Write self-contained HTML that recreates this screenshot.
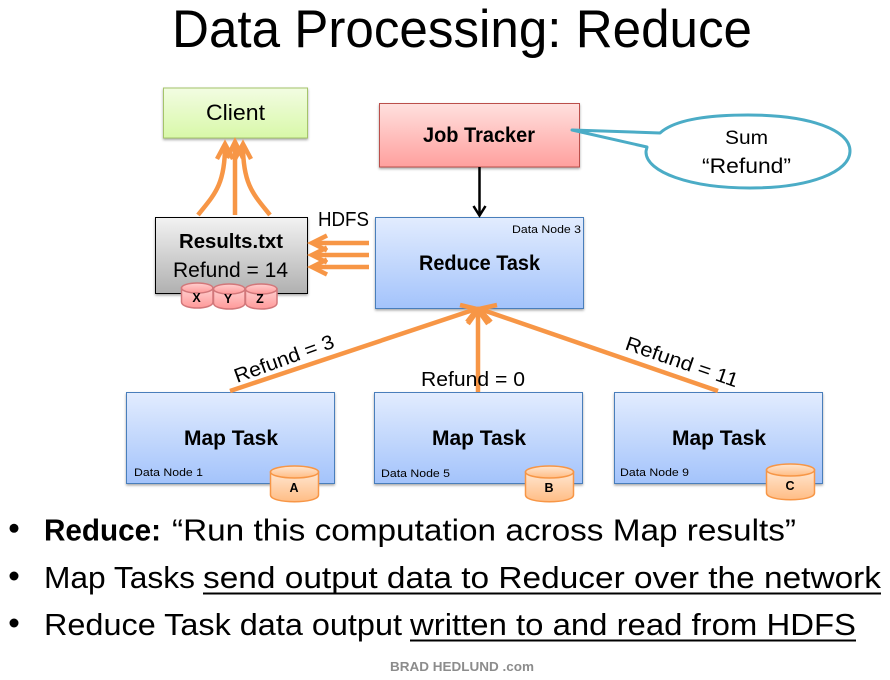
<!DOCTYPE html>
<html>
<head>
<meta charset="utf-8">
<style>
html,body{margin:0;padding:0;background:#fff}
svg{display:block}
text{font-family:"Liberation Sans",sans-serif;fill:#000}
.b{font-weight:bold}
</style>
</head>
<body>
<svg width="890" height="680" viewBox="0 0 890 680" xmlns="http://www.w3.org/2000/svg">
<defs>
<linearGradient id="blue" x1="0" y1="0" x2="0" y2="1"><stop offset="0" stop-color="#e2ecfe"/><stop offset="1" stop-color="#a3c3fb"/></linearGradient>
<linearGradient id="red" x1="0" y1="0" x2="0" y2="1"><stop offset="0" stop-color="#ffe0de"/><stop offset="1" stop-color="#ff9f9d"/></linearGradient>
<linearGradient id="green" x1="0" y1="0" x2="0" y2="1"><stop offset="0" stop-color="#f2fce2"/><stop offset="1" stop-color="#d8f8a8"/></linearGradient>
<linearGradient id="gray" x1="0" y1="0" x2="0" y2="1"><stop offset="0" stop-color="#f2f2f2"/><stop offset="1" stop-color="#b0b0b0"/></linearGradient>
<linearGradient id="org" x1="0" y1="0" x2="0" y2="1"><stop offset="0" stop-color="#ffe6d0"/><stop offset="1" stop-color="#ffbd85"/></linearGradient>
<linearGradient id="pink" x1="0" y1="0" x2="0" y2="1"><stop offset="0" stop-color="#ffd0d0"/><stop offset="1" stop-color="#f99"/></linearGradient>
<filter id="sh" x="-5%" y="-5%" width="110%" height="115%"><feDropShadow dx="0" dy="1.5" stdDeviation="1.2" flood-color="#000" flood-opacity=".35"/></filter>
</defs>

<text x="172" y="47" font-size="53" textLength="580" lengthAdjust="spacingAndGlyphs">Data Processing: Reduce</text>

<!-- boxes -->
<rect x="163.5" y="88" width="144" height="50" fill="url(#green)" stroke="#a5c46b" filter="url(#sh)"/>
<rect x="379.5" y="103.5" width="200" height="63.5" fill="url(#red)" stroke="#bb4f4c" filter="url(#sh)"/>
<rect x="375.5" y="217.5" width="208" height="91" fill="url(#blue)" stroke="#4a7ebb" filter="url(#sh)"/>
<rect x="155.5" y="217.5" width="152" height="76" fill="url(#gray)" stroke="#000" filter="url(#sh)"/>
<rect x="126.5" y="392.5" width="208" height="91" fill="url(#blue)" stroke="#4a7ebb" filter="url(#sh)"/>
<rect x="374.5" y="392.5" width="208" height="91" fill="url(#blue)" stroke="#4a7ebb" filter="url(#sh)"/>
<rect x="614.5" y="392.5" width="208" height="91" fill="url(#blue)" stroke="#4a7ebb" filter="url(#sh)"/>

<!-- orange arrows -->
<g fill="none" stroke="#f79646" stroke-width="4.5">
<path d="M198 215C214 195 225 185 225 146"/>
<path d="M235 215V143"/>
<path d="M270 215C254 195 243 185 243 146"/>
<path d="M217 159L225 144L233 159"/>
<path d="M227 158L235 142L243 158"/>
<path d="M235 159L243 144L251 159"/>
<path d="M369 243H314"/><path d="M327 235.500L312 243L327 250.500"/>
<path d="M369 255H314"/><path d="M327 247.500L312 255L327 262.500"/>
<path d="M369 267H314"/><path d="M327 259.500L312 267L327 274.500"/>
<path d="M230 391L476 309"/><path d="M460 305L477 309L467 322"/>
<path d="M478 392V312"/><path d="M468 324L478 310L488 324"/>
<path d="M718 391L480 309"/><path d="M491 322L479 309L497 305"/>
</g>

<!-- black arrow -->
<g fill="none" stroke="#000" stroke-width="2.5">
<path d="M479.5 167V215"/><path d="M473.500 206L479.500 215.500L485.500 206"/>
</g>

<!-- callout -->
<path d="M572 130L660 133C672 122 700 115 748 115C810 115 850 130 850 151C850 172 810 188 750 188C690 188 646 172 646 152C646 150 647 148 647 147Z" fill="#fff" stroke="#4bacc6" stroke-width="3" stroke-linejoin="round"/>

<!-- labels -->
<text x="206" y="120" font-size="22" textLength="59" lengthAdjust="spacingAndGlyphs">Client</text>
<text x="423" y="142" font-size="21" class="b" textLength="112" lengthAdjust="spacingAndGlyphs">Job Tracker</text>
<text x="725" y="144" font-size="19" textLength="43" lengthAdjust="spacingAndGlyphs">Sum</text>
<text x="702" y="173" font-size="21" textLength="89" lengthAdjust="spacingAndGlyphs">“Refund”</text>
<text x="512" y="233" font-size="11" textLength="69" lengthAdjust="spacingAndGlyphs">Data Node 3</text>
<text x="419" y="270" font-size="21" class="b" textLength="121" lengthAdjust="spacingAndGlyphs">Reduce Task</text>
<text x="318" y="226" font-size="20" textLength="51" lengthAdjust="spacingAndGlyphs">HDFS</text>
<text x="179" y="248" font-size="20" class="b" textLength="104" lengthAdjust="spacingAndGlyphs">Results.txt</text>
<text x="173" y="277" font-size="21" textLength="115" lengthAdjust="spacingAndGlyphs">Refund = 14</text>

<text x="184" y="445" font-size="21" class="b" textLength="94" lengthAdjust="spacingAndGlyphs">Map Task</text>
<text x="432" y="445" font-size="21" class="b" textLength="94" lengthAdjust="spacingAndGlyphs">Map Task</text>
<text x="672" y="445" font-size="21" class="b" textLength="94" lengthAdjust="spacingAndGlyphs">Map Task</text>
<text x="134" y="476" font-size="11" textLength="69" lengthAdjust="spacingAndGlyphs">Data Node 1</text>
<text x="381" y="477" font-size="11" textLength="69" lengthAdjust="spacingAndGlyphs">Data Node 5</text>
<text x="620" y="476" font-size="11" textLength="69" lengthAdjust="spacingAndGlyphs">Data Node 9</text>

<text x="421" y="386" font-size="20" textLength="104" lengthAdjust="spacingAndGlyphs">Refund = 0</text>
<text transform="translate(237 383) rotate(-20)" font-size="20" textLength="105" lengthAdjust="spacingAndGlyphs">Refund = 3</text>
<text transform="translate(624 349) rotate(19)" font-size="20" textLength="118" lengthAdjust="spacingAndGlyphs">Refund = 11</text>

<!-- cylinders -->
<g stroke="#d2777a" stroke-width="1.5" fill="url(#pink)">
<path d="M181.5 288V302C181.5 310 213 310 213 302V288Z"/><ellipse cx="197.2" cy="288" rx="15.7" ry="5"/>
<path d="M213.5 289V303C213.5 311 245 311 245 303V289Z"/><ellipse cx="229.2" cy="289" rx="15.7" ry="5"/>
<path d="M245.5 289V303C245.5 311 277 311 277 303V289Z"/><ellipse cx="261.2" cy="289" rx="15.7" ry="5"/>
</g>
<g stroke="#f79646" stroke-width="1.5" fill="url(#org)">
<path d="M270.5 472V495C270.5 504 318.5 504 318.5 495V472Z"/><ellipse cx="294.5" cy="472" rx="24" ry="6"/>
<path d="M525.5 472V495C525.5 504 573.5 504 573.5 495V472Z"/><ellipse cx="549.5" cy="472" rx="24" ry="6"/>
<path d="M766.5 470V493C766.5 502 814.5 502 814.5 493V470Z"/><ellipse cx="790.5" cy="470" rx="24" ry="6"/>
</g>
<g class="b" font-size="12.5" font-weight="bold" text-anchor="middle">
<text x="196.5" y="302">X</text><text x="228" y="303">Y</text><text x="260" y="303">Z</text>
<text x="294" y="492">A</text><text x="549" y="492">B</text><text x="790" y="490">C</text>
</g>

<!-- bullets -->
<circle cx="14" cy="528.300" r="4.500"/><circle cx="14" cy="576" r="4.500"/><circle cx="14" cy="623" r="4.500"/>
<text x="44" y="540.500" font-size="31" class="b" textLength="117" lengthAdjust="spacingAndGlyphs">Reduce:</text>
<text x="172" y="540.500" font-size="31" textLength="624" lengthAdjust="spacingAndGlyphs">“Run this computation across Map results”</text>
<text x="44" y="588" font-size="31" textLength="151" lengthAdjust="spacingAndGlyphs">Map Tasks</text>
<text x="203" y="588" font-size="31" textLength="678" lengthAdjust="spacingAndGlyphs">send output data to Reducer over the network</text>
<rect x="203" y="592.500" width="678" height="2"/>
<text x="44" y="635" font-size="31" textLength="358" lengthAdjust="spacingAndGlyphs">Reduce Task data output</text>
<text x="410" y="635" font-size="31" textLength="446" lengthAdjust="spacingAndGlyphs">written to and read from HDFS</text>
<rect x="410" y="639.500" width="446" height="2"/>

<text x="390" y="671" font-size="13" font-weight="bold" style="fill:#8c8c8c" textLength="144" lengthAdjust="spacingAndGlyphs">BRAD HEDLUND .com</text>
</svg>
</body>
</html>
